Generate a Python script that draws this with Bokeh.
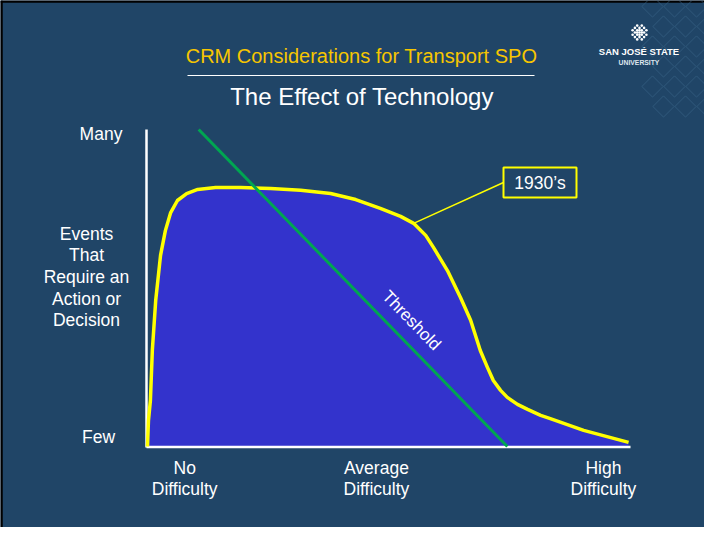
from bokeh.plotting import figure
from bokeh.models import Range1d
from bokeh.core.properties import value
from bokeh.embed import file_html
from bokeh.resources import INLINE
import math

# ---------------- data (difficulty 0..10, events 0..10) ----------------
difficulty = [0.0, 0.02, 0.06, 0.10, 0.17, 0.27, 0.37, 0.48, 0.62, 0.81, 1.04, 1.41,
              1.93, 2.55, 3.17, 3.79, 4.31, 4.82, 5.24, 5.51, 5.76, 5.92, 6.21, 6.48,
              6.69, 6.89, 7.04, 7.16, 7.31, 7.45, 7.66, 7.87, 8.14, 8.34, 9.03, 9.96]
events_1930s = [0.0, 0.82, 1.45, 3.03, 4.61, 6.03, 6.81, 7.38, 7.76, 7.98, 8.11, 8.17,
                8.17, 8.14, 8.08, 7.98, 7.79, 7.51, 7.26, 7.04, 6.66, 6.28, 5.55, 4.70,
                3.98, 3.03, 2.49, 2.08, 1.77, 1.55, 1.33, 1.17, 0.98, 0.88, 0.51, 0.13]
threshold_x = [1.06, 7.45]
threshold_y = [10.0, 0.0]
x_tick_labels = ["No\nDifficulty", "Average\nDifficulty", "High\nDifficulty"]
x_tick_values = [0.77, 4.74, 9.44]
y_tick_labels = ["Few", "Many"]
y_title = ["Events", "That", "Require an", "Action or", "Decision"]
series_label = "1930\u2019s"
threshold_label = "Threshold"
title_text = "CRM Considerations for Transport SPO"
subtitle_text = "The Effect of Technology"

# ---------------- styling ----------------
BG = "#204567"
FILL = "#3333cc"
YELLOW = "#ffff00"
GREEN = "#00a651"
GOLD = "#f7c600"
FONT = value("Liberation Sans")

# layout helpers: slide pixel -> data units
def sx(px):
    return (px - 147) / 48.3

def sy(py):
    return (446 - py) / 31.7

def mid(baseline_px, size):
    # vertical centre of a text line whose baseline sits at baseline_px
    return sy(baseline_px - 0.4 * size)

p = figure(width=704, height=527, x_range=Range1d(sx(0), sx(704)),
           y_range=Range1d(sy(527), sy(0)), output_backend="svg",
           toolbar_location=None, min_border=0,
           x_axis_location=None, y_axis_location=None)
p.grid.visible = False
p.background_fill_color = BG
p.border_fill_color = BG
p.outline_line_color = None

def label(xs, ys, texts, size, color="white", bold=False, **kw):
    p.text(xs, ys, text=texts, text_font=FONT, text_font_size=value(f"{size}px"),
           text_font_style="bold" if bold else "normal", text_color=color,
           text_align="center", text_baseline="middle", **kw)

# slide border (left / top)
p.line([sx(1), sx(1)], [sy(0), sy(527)], line_color="black", line_width=2.5)
p.line([sx(0), sx(704)], [sy(1), sy(1)], line_color="black", line_width=2.5)

# decorative diamond lattice (top right)
dx, dy = [], []
for j in range(6):
    for i in range(4):
        cx = 652 + 22 * i + (11 if j % 2 else 0)
        cy = 6 + 20 * j
        if cx > 650 - j * 6:
            dx.append(sx(cx)); dy.append(sy(cy))
p.scatter(dx, dy, marker="square", size=15, angle=math.pi / 4,
          fill_color=None, line_color="#3a6688", line_width=1, line_alpha=0.6)

# logo icon
ix, iy = [], []
for i in range(-3, 4):
    for j in range(-3, 4):
        if i * i + j * j <= 10 and (i + j) % 2 == 0 or abs(i) + abs(j) <= 1:
            ix.append(sx(639 + i * 2.3)); iy.append(sy(32 + j * 2.3))
p.scatter(ix, iy, marker="circle", size=2.6, fill_color="white", line_color=None)
label([sx(638.5)], [mid(55, 9.5)], ["SAN JOS\u00c9 STATE"], 9.5, bold=True)
label([sx(638.5)], [mid(64.5, 6.8)], ["UNIVERSITY"], 6.8, color="#dfe6ee", bold=True)

# titles
label([sx(361)], [mid(63, 20)], [title_text], 20, color=GOLD)
p.line([sx(187), sx(534)], [sy(75), sy(75)], line_color="white", line_width=1.2)
label([sx(361.5)], [mid(106, 24)], [subtitle_text], 24)

# filled curve
p.varea(x=difficulty, y1=[0.0] * len(difficulty), y2=events_1930s, fill_color=FILL)

# axes
p.line([sx(146), sx(146)], [sy(447), 10.0], line_color="white", line_width=2.5)
p.line([sx(146), 10.0], [sy(446.5), sy(446.5)], line_color="white", line_width=2.5)

# curve outline
p.line(difficulty, events_1930s, line_color=YELLOW, line_width=3.5, line_join="round")

# threshold
p.line(threshold_x, threshold_y, line_color=GREEN, line_width=3)
ang = -math.degrees(math.atan((446 - 129) / (507 - 198)))
label([sx(411)], [sy(320)], [threshold_label], 17, angle=ang, angle_units="deg")

# 1930's callout
p.line([difficulty[19], sx(503)], [events_1930s[19], sy(182)], line_color=YELLOW,
       line_width=1.5)
p.quad(left=[sx(503)], right=[sx(576)], bottom=[sy(197)], top=[sy(167)],
       fill_color=BG, line_color=YELLOW, line_width=2)
label([sx(539.5)], [sy(182)], [series_label], 17.5)

# y tick labels & title
label([sx(98), sx(100.5)], [mid(443, 17.5), mid(140, 17.5)], y_tick_labels, 17.5)
label([sx(86)] * len(y_title), [mid(240 + 21.7 * k, 17.5) for k in range(len(y_title))],
      y_title, 17.5)

# x tick labels
lx, ly, lt = [], [], []
for xv, lab in zip(x_tick_values, x_tick_labels):
    for k, part in enumerate(lab.split("\n")):
        lx.append(xv); ly.append(mid(474 + 21 * k, 17.5)); lt.append(part)
label(lx, ly, lt, 17.5)

open("out.html", "w").write(file_html(p, INLINE))
